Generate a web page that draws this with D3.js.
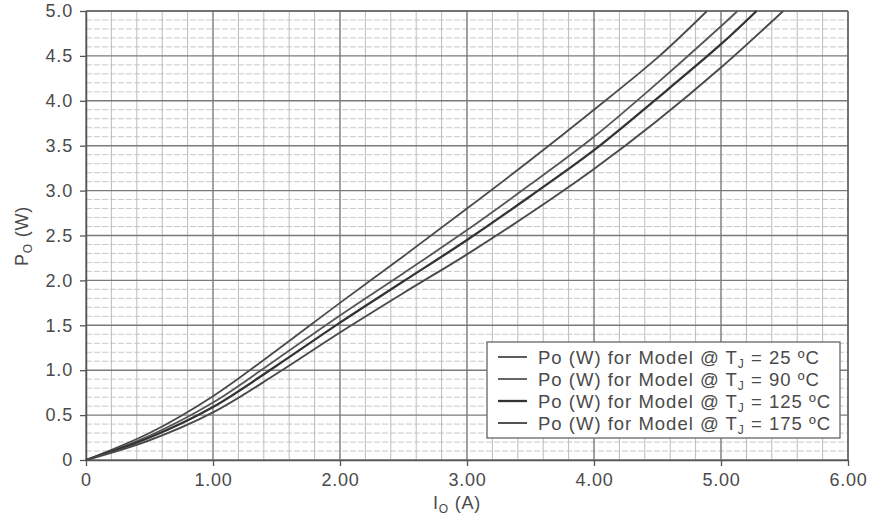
<!DOCTYPE html>
<html>
<meta charset="utf-8">
<head>
  <script src='https://d3js.org/d3.v7.min.js'></script>
  <style>
    body { margin:0; background:#fff; }
    text { font-family: 'Liberation Sans', Arial, sans-serif; fill:#4a4a4a; letter-spacing:0.8px; }
  </style>
</head>
<body>
<script>
    // values (I in A, P in W)
    var temps = ['25', '90', '125', '175'];
    var current = [0, 0.5, 1.0, 1.5, 2.0, 2.5, 3.0, 3.5, 4.0, 4.5, 5.0];
    var p25  = [0, 0.30, 0.71, 1.22, 1.75, 2.27, 2.80, 3.34, 3.90, 4.48];
    var p90  = [0, 0.27, 0.64, 1.12, 1.61, 2.08, 2.56, 3.07, 3.60, 4.20, 4.83];
    var p125 = [0, 0.25, 0.59, 1.05, 1.53, 1.99, 2.45, 2.94, 3.45, 4.03, 4.63];
    var p175 = [0, 0.22, 0.53, 0.96, 1.42, 1.86, 2.29, 2.75, 3.24, 3.78, 4.37];
    // where each curve reaches the top of the chart
    var endI = [4.89, 5.13, 5.28, 5.49];
    var xTicks = [0, 1, 2, 3, 4, 5, 6];
    var yTicks = [0, 0.5, 1.0, 1.5, 2.0, 2.5, 3.0, 3.5, 4.0, 4.5, 5.0];

    var W = 878, H = 519;
    var svg = d3.select('body').append('svg').attr('width', W).attr('height', H);

    var x = d3.scaleLinear().domain([0, 6]).range([86, 848]);
    var y = d3.scaleLinear().domain([0, 5]).range([460, 11]);

    // minor horizontal grid every 0.1
    svg.append('g').selectAll('line')
	.data(d3.range(1, 50).map(d => d / 10).filter(d => Math.round(d * 10) % 5 != 0))
	.join('line')
	.attr('x1', x(0)).attr('x2', x(6))
	.attr('y1', d => y(d)).attr('y2', d => y(d))
	.attr('stroke', '#c8c8c8').attr('stroke-width', 1)
	.attr('stroke-dasharray', '6,2');

    // minor vertical grid every 0.2
    svg.append('g').selectAll('line')
	.data(d3.range(1, 30).map(d => d / 5).filter(d => Math.round(d * 5) % 5 != 0))
	.join('line')
	.attr('x1', d => x(d)).attr('x2', d => x(d))
	.attr('y1', y(0)).attr('y2', y(5))
	.attr('stroke', '#bcbcbc').attr('stroke-width', 1);

    // major grid
    svg.append('g').selectAll('line')
	.data(yTicks)
	.join('line')
	.attr('x1', x(0)).attr('x2', x(6))
	.attr('y1', d => y(d)).attr('y2', d => y(d))
	.attr('stroke', '#7a7a7a').attr('stroke-width', 1.4);
    svg.append('g').selectAll('line')
	.data(xTicks)
	.join('line')
	.attr('x1', d => x(d)).attr('x2', d => x(d))
	.attr('y1', y(0)).attr('y2', y(5))
	.attr('stroke', '#7a7a7a').attr('stroke-width', 1.4);

    // axes
    var fmtX = d => d == 0 ? '0' : d.toFixed(2);
    var fmtY = d => d == 0 ? '0' : d.toFixed(1);
    var xAxis = svg.append('g').attr('transform', `translate(0,${y(0)})`)
	.call(d3.axisBottom(x).tickValues(xTicks).tickFormat(fmtX).tickSize(6).tickSizeOuter(0));
    var yAxis = svg.append('g').attr('transform', `translate(${x(0)},0)`)
	.call(d3.axisLeft(y).tickValues(yTicks).tickFormat(fmtY).tickSize(6).tickSizeOuter(0));
    [xAxis, yAxis].forEach(a => {
	a.select('.domain').attr('stroke', '#555').attr('stroke-width', 1.5);
	a.selectAll('.tick line').attr('stroke', '#555').attr('stroke-width', 1.3);
	a.selectAll('.tick text').style('font-size', '18px').attr('fill', '#4a4a4a')
	    .style('font-family', "'Liberation Sans', Arial, sans-serif");
    });
    xAxis.selectAll('.tick text').attr('y', 13).attr('dy', '0.71em');
    yAxis.selectAll('.tick text').attr('x', -13);

    // right and top border
    svg.append('line').attr('x1', x(6)).attr('x2', x(6)).attr('y1', y(0)).attr('y2', y(5))
	.attr('stroke', '#666').attr('stroke-width', 1.5);
    svg.append('line').attr('x1', x(0)).attr('x2', x(6)).attr('y1', y(5)).attr('y2', y(5))
	.attr('stroke', '#666').attr('stroke-width', 1.5);

    // curves
    var series = [p25, p90, p125, p175].map((vals, i) => {
	var pts = vals.map((v, j) => [current[j], v]);
	pts.push([endI[i], 5.0]);
	return pts;
    });
    var widths = [1.8, 1.8, 2.3, 1.9];
    var colors = ['#4a4a4a', '#555', '#333', '#4a4a4a'];
    var line = d3.line().x(d => x(d[0])).y(d => y(d[1])).curve(d3.curveCatmullRom.alpha(0.5));
    svg.append('g').selectAll('path')
	.data(series)
	.join('path')
	.attr('d', line)
	.attr('fill', 'none')
	.attr('stroke', (d, i) => colors[i])
	.attr('stroke-width', (d, i) => widths[i]);

    // axis titles
    var xt = svg.append('text').attr('x', 457).attr('y', 509).attr('text-anchor', 'middle')
	.style('font-size', '18px');
    xt.append('tspan').text('I');
    xt.append('tspan').text('O').attr('dy', 4).style('font-size', '12px');
    xt.append('tspan').text(' (A)').attr('dy', -4);

    var yt = svg.append('text').attr('transform', 'translate(28,236) rotate(-90)')
	.attr('text-anchor', 'middle').style('font-size', '18px');
    yt.append('tspan').text('P');
    yt.append('tspan').text('O').attr('dy', 4).style('font-size', '12px');
    yt.append('tspan').text(' (W)').attr('dy', -4);

    // legend
    var lg = svg.append('g');
    lg.append('rect').attr('x', 487).attr('y', 342).attr('width', 353).attr('height', 96)
	.attr('fill', '#fff').attr('stroke', '#666').attr('stroke-width', 1.3);
    temps.forEach((t, i) => {
	var ly = 357 + i * 22;
	lg.append('line').attr('x1', 498).attr('x2', 527).attr('y1', ly).attr('y2', ly)
	    .attr('stroke', colors[i]).attr('stroke-width', widths[i]);
	var tx = lg.append('text').attr('x', 538).attr('y', ly + 6.5).style('font-size', '18.5px')
	    .style('letter-spacing', '1px');
	tx.append('tspan').text('Po (W) for Model @ T');
	tx.append('tspan').text('J').attr('dy', 4).style('font-size', '12px');
	tx.append('tspan').text(' = ' + t + ' ºC').attr('dy', -4);
    });
</script>
</body>
</html>
